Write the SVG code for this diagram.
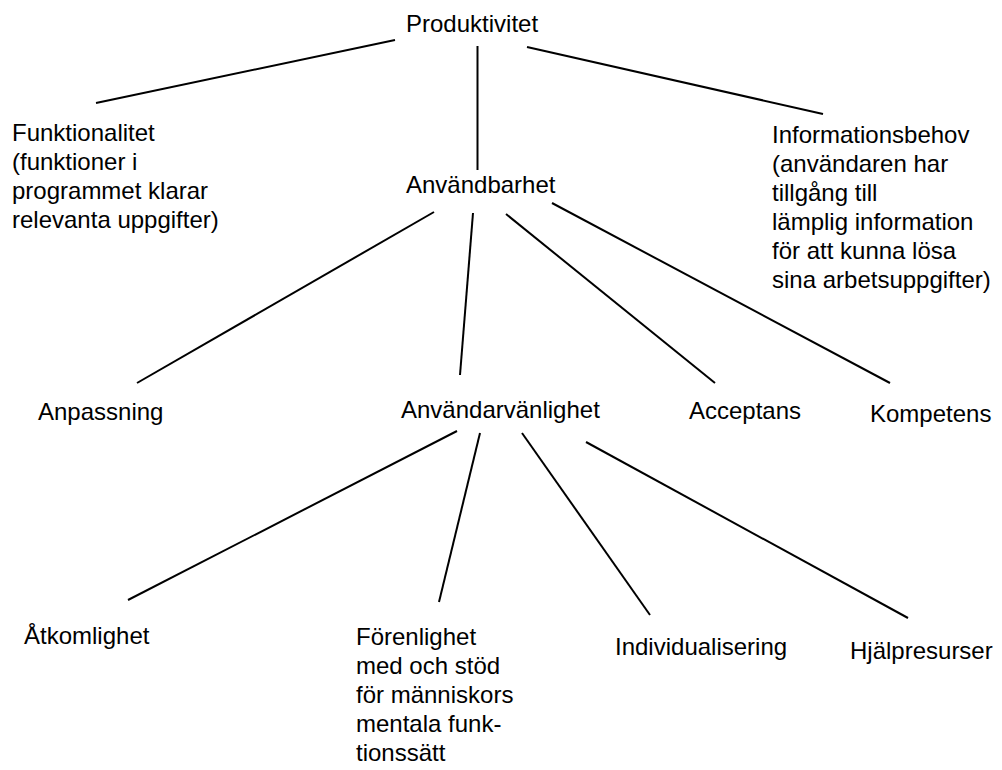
<svg xmlns="http://www.w3.org/2000/svg" width="1002" height="770" viewBox="0 0 1002 770">
<style>
text { font-family: "Liberation Sans", Arial, sans-serif; font-size: 24px; fill: #000; }
.c line { stroke: #000; stroke-width: 2; stroke-linecap: butt; }
</style>
<rect width="1002" height="770" fill="#fff"/>
<g class="c" id="connectors">
<line x1="395" y1="40" x2="96" y2="103"/>
<line x1="477.5" y1="46" x2="477.5" y2="170"/>
<line x1="527" y1="47" x2="823" y2="114"/>
<line x1="434" y1="212" x2="137" y2="383"/>
<line x1="473" y1="213" x2="460" y2="375"/>
<line x1="506" y1="214" x2="715" y2="383"/>
<line x1="552" y1="203" x2="890" y2="383"/>
<line x1="457" y1="431" x2="128" y2="600"/>
<line x1="480" y1="433" x2="439" y2="602"/>
<line x1="522" y1="433" x2="650" y2="615"/>
<line x1="586" y1="442" x2="908" y2="618"/>
</g>
<g id="produktivitet"><text x="406" y="32">Produktivitet</text></g>
<g id="funktionalitet">
<text x="12" y="141">Funktionalitet</text>
<text x="12" y="170">(funktioner i</text>
<text x="12" y="199">programmet klarar</text>
<text x="12" y="228">relevanta uppgifter)</text>
</g>
<g id="anvandbarhet"><text x="406" y="193">Användbarhet</text></g>
<g id="informationsbehov">
<text x="772" y="143">Informationsbehov</text>
<text x="772" y="172">(användaren har</text>
<text x="772" y="201">tillgång till</text>
<text x="772" y="230">lämplig information</text>
<text x="772" y="259">för att kunna lösa</text>
<text x="772" y="288">sina arbetsuppgifter)</text>
</g>
<g id="anpassning"><text x="38" y="420">Anpassning</text></g>
<g id="anvandarvanlighet"><text x="401" y="418">Användarvänlighet</text></g>
<g id="acceptans"><text x="689" y="419">Acceptans</text></g>
<g id="kompetens"><text x="870" y="422">Kompetens</text></g>
<g id="atkomlighet"><text x="24" y="644">Åtkomlighet</text></g>
<g id="forenlighet">
<text x="356" y="645">Förenlighet</text>
<text x="356" y="674">med och stöd</text>
<text x="356" y="703">för människors</text>
<text x="356" y="732">mentala funk-</text>
<text x="356" y="761">tionssätt</text>
</g>
<g id="individualisering"><text x="615" y="655">Individualisering</text></g>
<g id="hjalpresurser"><text x="850" y="659">Hjälpresurser</text></g>
</svg>
